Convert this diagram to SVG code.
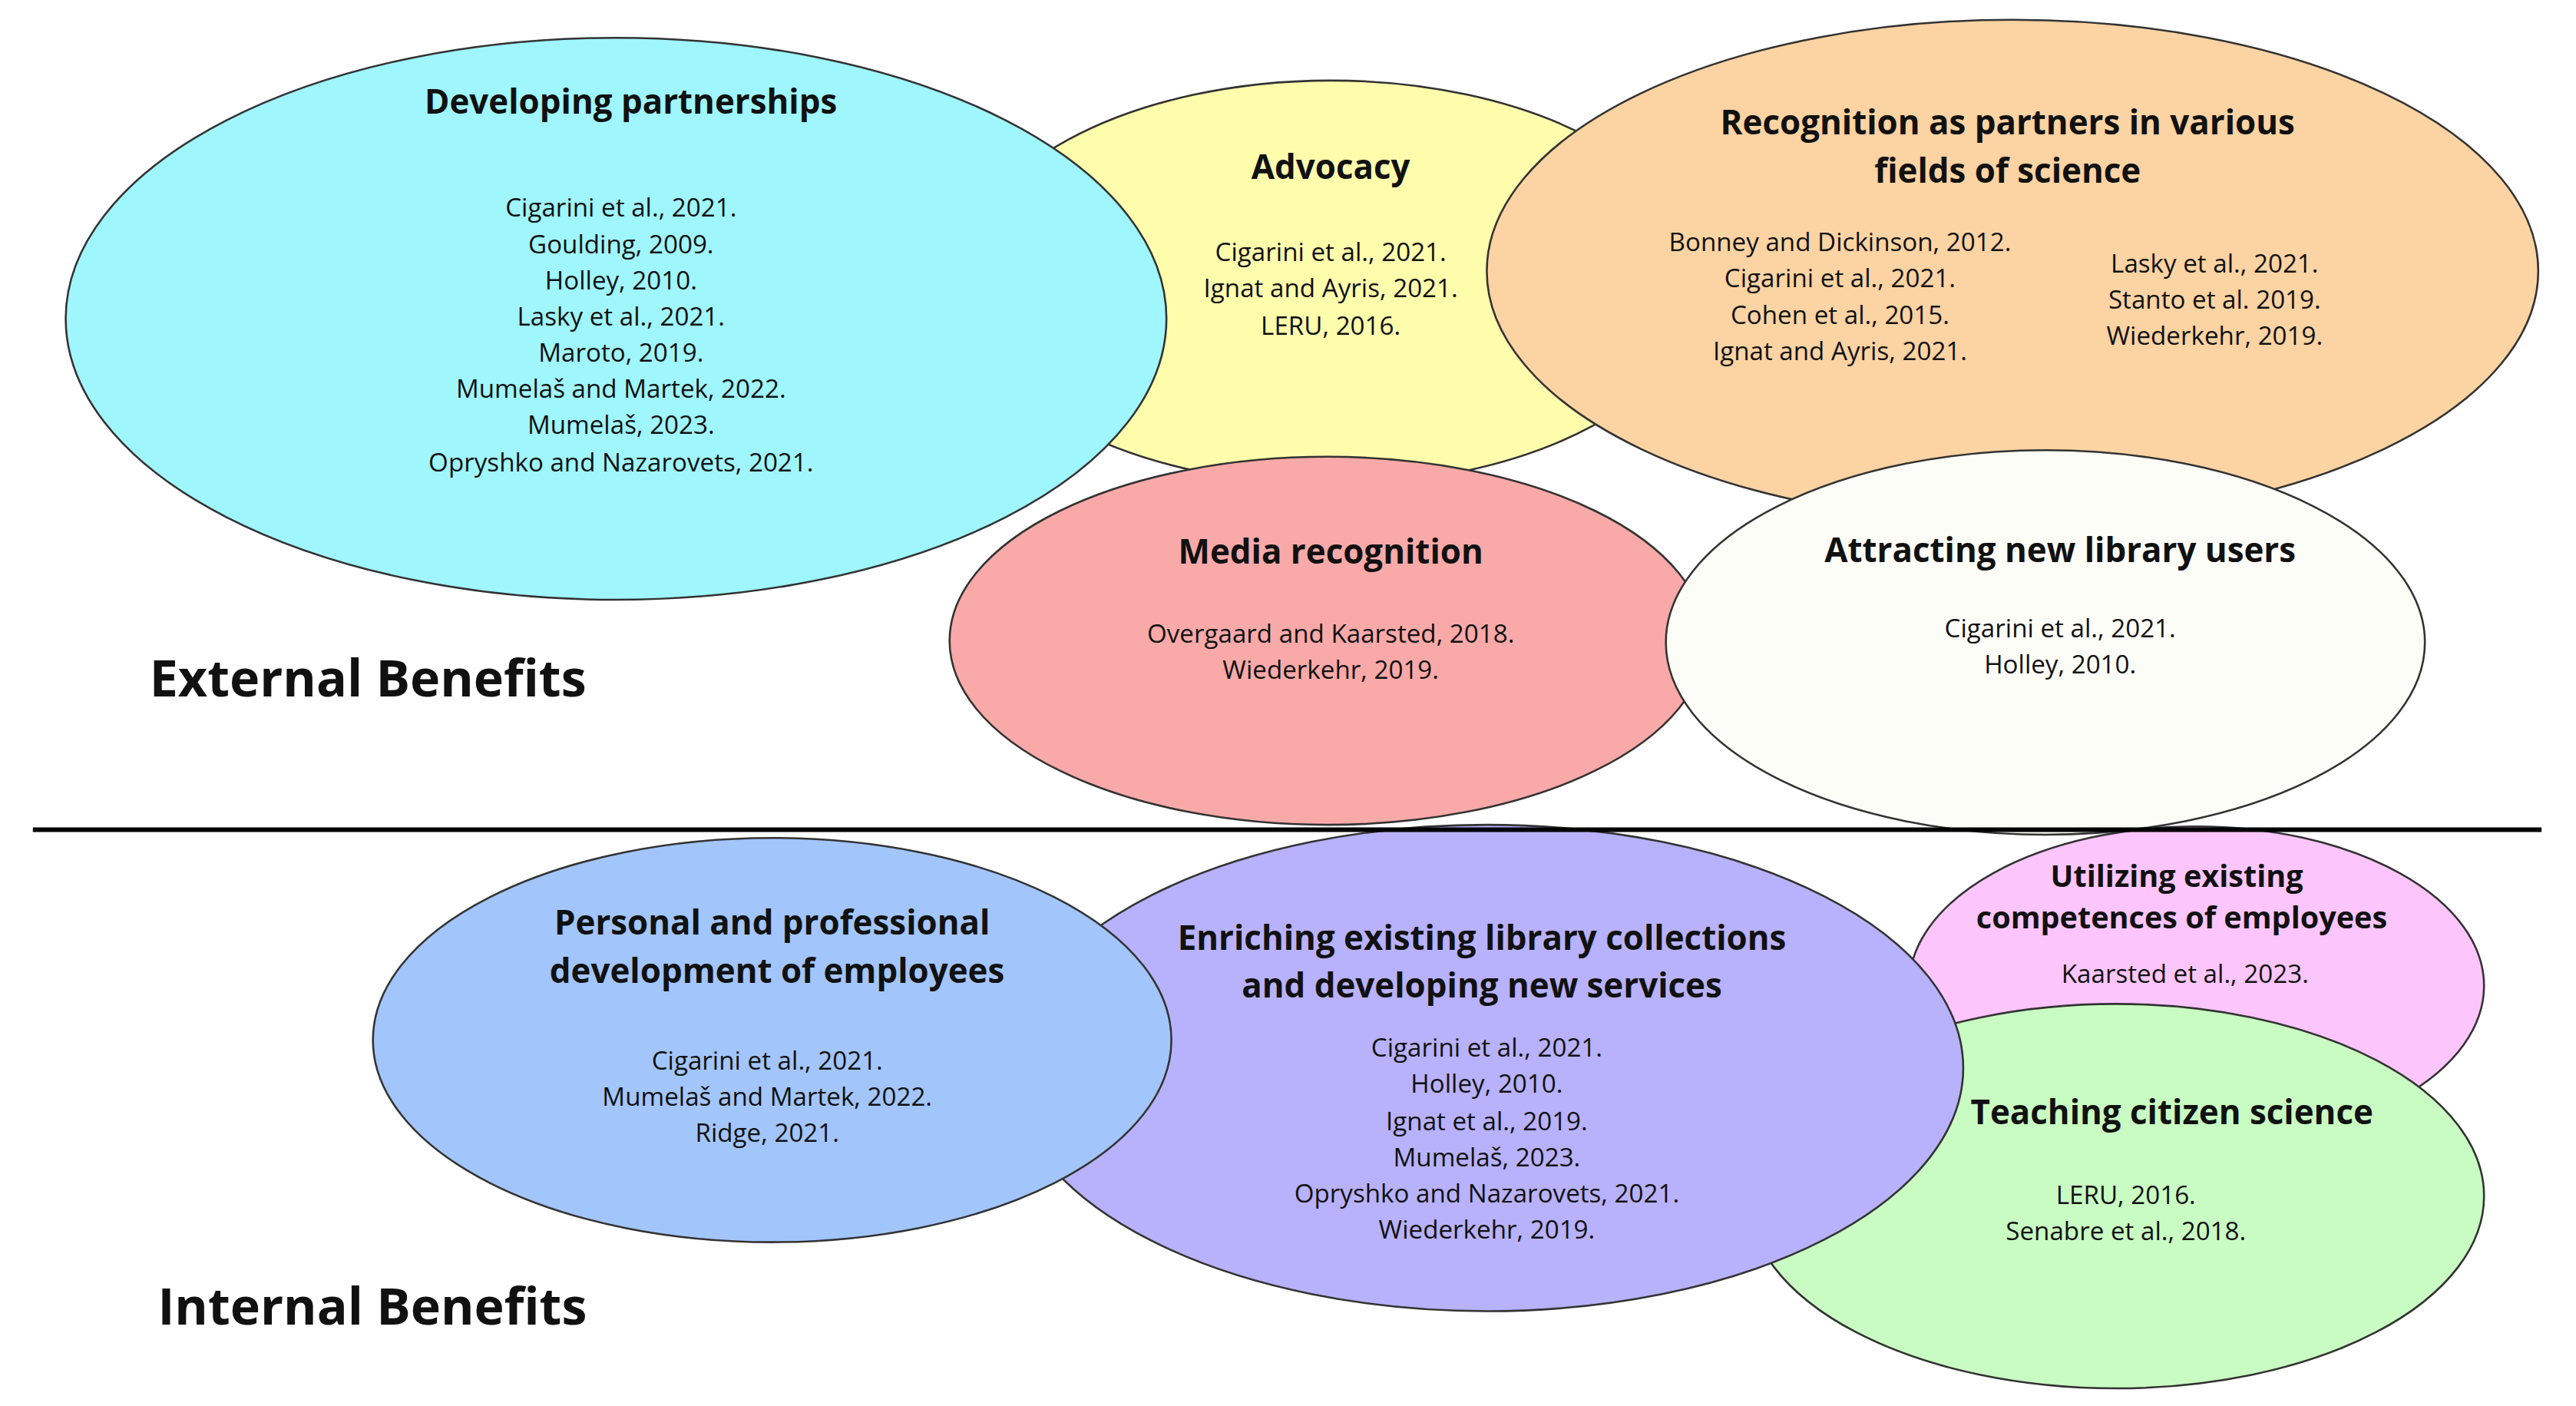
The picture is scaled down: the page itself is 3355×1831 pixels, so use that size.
<svg xmlns="http://www.w3.org/2000/svg" width="3355" height="1831" viewBox="0 0 3355 1831">
<style>
.e{stroke:#333;stroke-width:1.2}
.t{font-family:"Open Sans","Liberation Sans",sans-serif;font-weight:bold;font-size:20.5px;text-anchor:middle;fill:#111}
.r{font-family:"Open Sans","Liberation Sans",sans-serif;font-size:15.5px;text-anchor:middle;fill:#111}
.b{font-family:"Open Sans","Liberation Sans",sans-serif;font-weight:bold;font-size:31px;fill:#111}
</style>
<rect width="3355" height="1831" fill="#fff"/>
<g transform="scale(2.1397)">
<g id="advocacy"><ellipse class="e" cx="810" cy="172" rx="226" ry="123" fill="#fdfdac"/></g>
<g id="developing"><ellipse class="e" cx="375" cy="194" rx="335" ry="171" fill="#9ff6fd"/></g>
<g id="recognition"><ellipse class="e" cx="1225" cy="165" rx="320" ry="153" fill="#fcd3a2"/></g>
<g id="media"><ellipse class="e" cx="808" cy="390" rx="230" ry="112" fill="#f9a9a8"/></g>
<g id="attracting"><ellipse class="e" cx="1245" cy="391" rx="231" ry="117" fill="#fdfdf8"/></g>
<g id="utilizing"><ellipse class="e" cx="1337" cy="600" rx="175" ry="97" fill="#fcc5fc"/></g>
<g id="teaching"><ellipse class="e" cx="1288" cy="728" rx="224" ry="117" fill="#c9fcc2"/></g>
<g id="enriching"><ellipse class="e" cx="905" cy="650" rx="290" ry="148" fill="#b8b1fc"/></g>
<g id="personal"><ellipse class="e" cx="470" cy="633" rx="243" ry="123" fill="#a2c5fc"/></g>
<g id="connectors"><line x1="20" y1="505" x2="1547" y2="505" stroke="#000" stroke-width="2.8"/></g>
<g id="texts">
<text class="t" x="384" y="69">Developing partnerships</text>
<text class="r" x="378" y="132">Cigarini et al., 2021.</text>
<text class="r" x="378" y="154">Goulding, 2009.</text>
<text class="r" x="378" y="176">Holley, 2010.</text>
<text class="r" x="378" y="198">Lasky et al., 2021.</text>
<text class="r" x="378" y="220">Maroto, 2019.</text>
<text class="r" x="378" y="242">Mumelaš and Martek, 2022.</text>
<text class="r" x="378" y="264">Mumelaš, 2023.</text>
<text class="r" x="378" y="287">Opryshko and Nazarovets, 2021.</text>
<text class="t" x="810" y="109">Advocacy</text>
<text class="r" x="810" y="159">Cigarini et al., 2021.</text>
<text class="r" x="810" y="181">Ignat and Ayris, 2021.</text>
<text class="r" x="810" y="204">LERU, 2016.</text>
<text class="t" x="1222" y="82">Recognition as partners in various</text>
<text class="t" x="1222" y="111">fields of science</text>
<text class="r" x="1120" y="153">Bonney and Dickinson, 2012.</text>
<text class="r" x="1120" y="175">Cigarini et al., 2021.</text>
<text class="r" x="1120" y="197">Cohen et al., 2015.</text>
<text class="r" x="1120" y="219">Ignat and Ayris, 2021.</text>
<text class="r" x="1348" y="166">Lasky et al., 2021.</text>
<text class="r" x="1348" y="188">Stanto et al. 2019.</text>
<text class="r" x="1348" y="210">Wiederkehr, 2019.</text>
<text class="t" x="810" y="343">Media recognition</text>
<text class="r" x="810" y="391">Overgaard and Kaarsted, 2018.</text>
<text class="r" x="810" y="413">Wiederkehr, 2019.</text>
<text class="t" x="1254" y="342">Attracting new library users</text>
<text class="r" x="1254" y="388">Cigarini et al., 2021.</text>
<text class="r" x="1254" y="410">Holley, 2010.</text>
<text class="b" x="91" y="424">External Benefits</text>
<text class="t" x="470" y="569">Personal and professional</text>
<text class="t" x="473" y="598">development  of employees</text>
<text class="r" x="467" y="651">Cigarini et al., 2021.</text>
<text class="r" x="467" y="673">Mumelaš and Martek, 2022.</text>
<text class="r" x="467" y="695">Ridge, 2021.</text>
<text class="t" x="902" y="578">Enriching existing library collections</text>
<text class="t" x="902" y="607">and developing new services</text>
<text class="r" x="905" y="643">Cigarini et al., 2021.</text>
<text class="r" x="905" y="665">Holley, 2010.</text>
<text class="r" x="905" y="688">Ignat et al., 2019.</text>
<text class="r" x="905" y="710">Mumelaš, 2023.</text>
<text class="r" x="905" y="732">Opryshko and Nazarovets, 2021.</text>
<text class="r" x="905" y="754">Wiederkehr, 2019.</text>
<text class="t" x="1325" y="540" style="font-size:18.5px">Utilizing existing</text>
<text class="t" x="1328" y="565" style="font-size:18.5px">competences  of employees</text>
<text class="r" x="1330" y="598">Kaarsted et al., 2023.</text>
<text class="t" x="1322" y="684">Teaching citizen science</text>
<text class="r" x="1294" y="733">LERU, 2016.</text>
<text class="r" x="1294" y="755">Senabre et al., 2018.</text>
<text class="b" x="96" y="806">Internal Benefits</text>
</g>
</g>
</svg>
